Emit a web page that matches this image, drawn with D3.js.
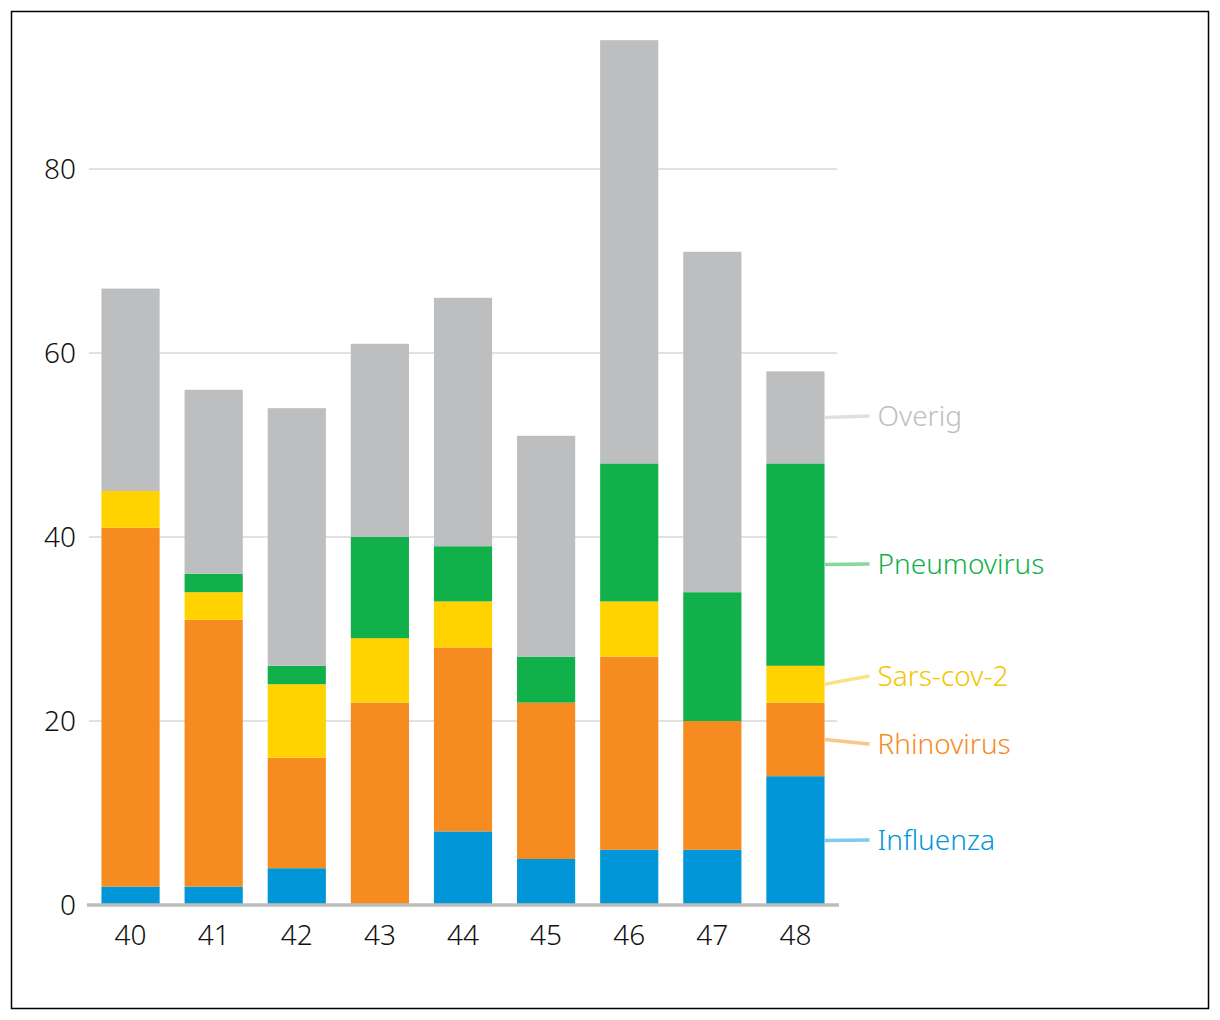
<!DOCTYPE html>
<html><head><meta charset="utf-8">
<script src="https://cdn.jsdelivr.net/npm/d3@7"></script>
<style>
html,body{margin:0;padding:0;background:#fff;}
svg text{font-family:"Noto Sans","Open Sans",sans-serif;font-weight:300;}
</style></head>
<body>
<svg id="c" width="1220" height="1020"></svg>
<script>
const weeks = ["40","41","42","43","44","45","46","47","48"];
const seriesNames = ["Influenza","Rhinovirus","Sars-cov-2","Pneumovirus","Overig"];
const influenza   = [2, 2, 4, 0, 8, 5, 6, 6, 14];
const rhinovirus  = [39, 29, 12, 22, 20, 17, 21, 14, 8];
const sarscov2    = [4, 3, 8, 7, 5, 0, 6, 0, 4];
const pneumovirus = [0, 2, 2, 11, 6, 5, 15, 14, 22];
const overig      = [22, 20, 28, 21, 27, 24, 46, 37, 10];
const yTicks = [0, 20, 40, 60, 80];
const colors = ["#0096d8","#f68b1f","#ffd200","#12b04a","#bdbec0"];
const lineColors = ["#7fcaf0","#fac58d","#f7e38a","#86d7a2","#dedfe0"];
const labelColors = ["#0096d8","#f68b1f","#f2c500","#12b04a","#bdbec0"];
const labelY = [840, 744, 676, 564, 416];

const svg = d3.select("#c");
svg.append("rect").attr("x",11.5).attr("y",11.5).attr("width",1197).attr("height",997)
  .attr("fill","none").attr("stroke","#000").attr("stroke-width",1.5);

const x = d3.scaleBand().domain(weeks).range([89, 837]).paddingInner(0.3).paddingOuter(0.15);
const y = d3.scaleLinear().domain([0, 80]).range([905, 169]);

const table = weeks.map((w,i)=>({week:w,"Influenza":influenza[i],"Rhinovirus":rhinovirus[i],
  "Sars-cov-2":sarscov2[i],"Pneumovirus":pneumovirus[i],"Overig":overig[i]}));
const stacked = d3.stack().keys(seriesNames)(table);

// grid
svg.append("g").selectAll("line").data(yTicks.filter(t=>t>0)).join("line")
  .attr("x1",89).attr("x2",837).attr("y1",d=>y(d)).attr("y2",d=>y(d))
  .attr("stroke","#c4c4c4").attr("stroke-width",1);

// y labels
svg.append("g").selectAll("text").data(yTicks).join("text")
  .attr("x",76).attr("y",d=>y(d)).attr("dy","0.36em").attr("text-anchor","end")
  .attr("font-size",28).attr("fill","#111").text(d=>d);

// bars
stacked.forEach((s,k)=>{
  svg.append("g").attr("fill",colors[k]).selectAll("rect").data(s).join("rect")
    .attr("x",d=>x(d.data.week)).attr("width",x.bandwidth())
    .attr("y",d=>y(d[1])).attr("height",d=>y(d[0])-y(d[1]));
});

// baseline
svg.append("line").attr("x1",87).attr("x2",839).attr("y1",y(0)).attr("y2",y(0))
  .attr("stroke","#bdbdbd").attr("stroke-width",3.5);

// x labels
svg.append("g").selectAll("text").data(weeks).join("text")
  .attr("x",d=>x(d)+x.bandwidth()/2).attr("y",945).attr("text-anchor","middle")
  .attr("font-size",28).attr("fill","#111").text(d=>d);

// series labels
const lastIdx = weeks.length-1;
const xEnd = x(weeks[lastIdx]) + x.bandwidth();
stacked.forEach((s,k)=>{
  const d = s[lastIdx];
  const ym = (y(d[0])+y(d[1]))/2;
  svg.append("line").attr("x1",xEnd).attr("x2",xEnd+45).attr("y1",ym).attr("y2",labelY[k])
    .attr("stroke",lineColors[k]).attr("stroke-width",3.5);
  svg.append("text").attr("x",xEnd+53).attr("y",labelY[k]).attr("dy","0.36em")
    .attr("font-size",28).attr("fill",labelColors[k]).text(seriesNames[k]);
});
</script>
</body></html>
